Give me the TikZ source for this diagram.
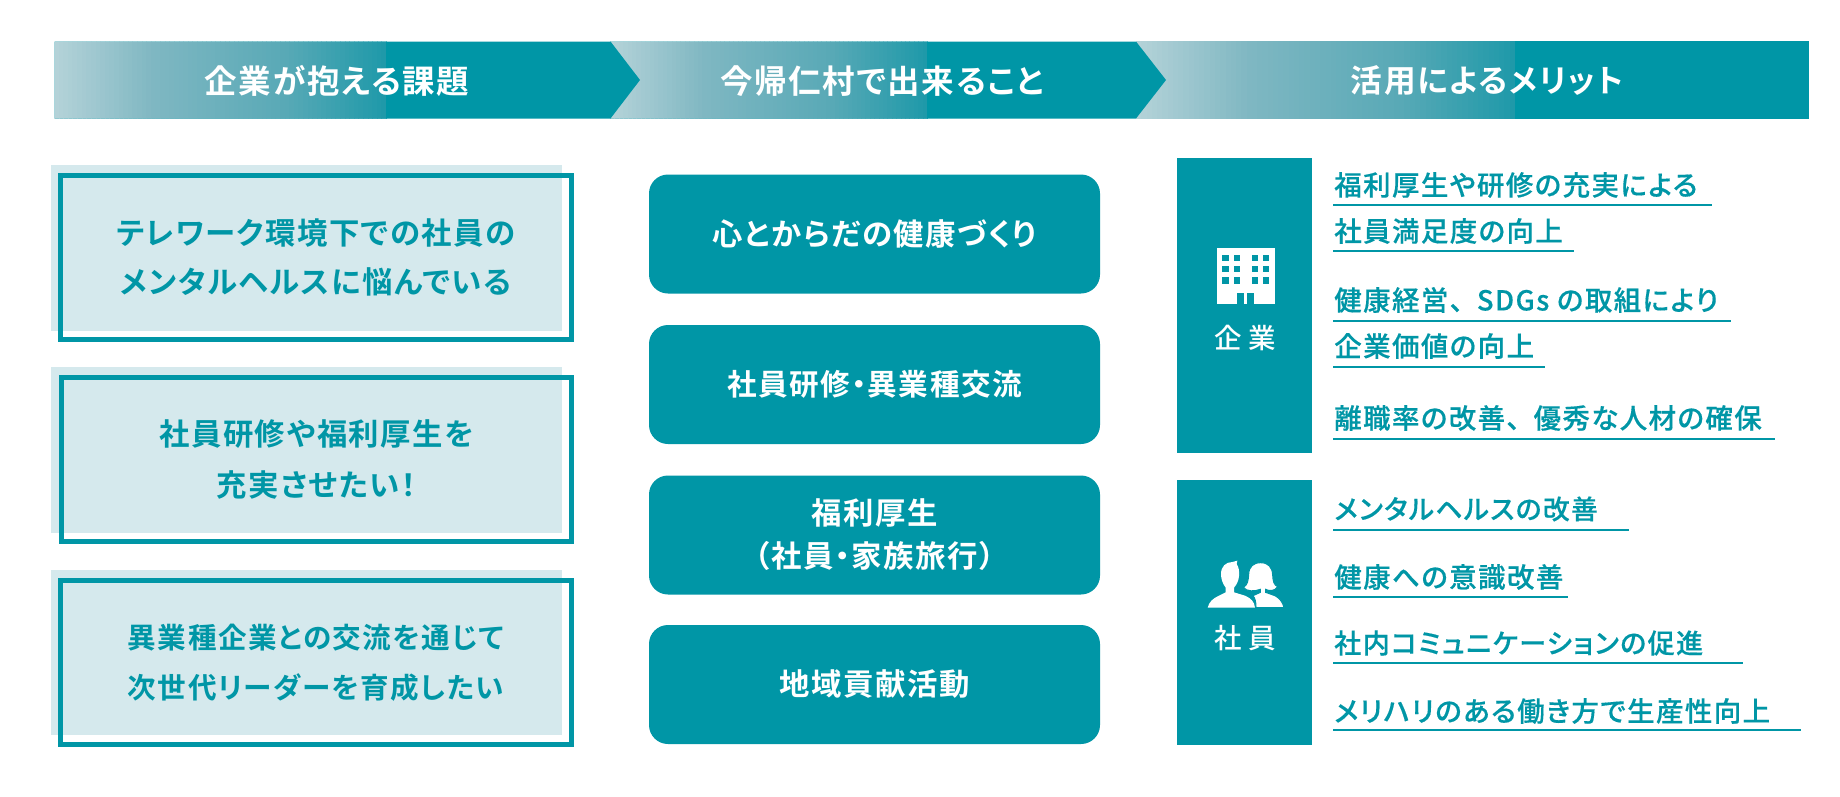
\documentclass[tikz,border=0pt]{standalone}
\usepackage{fontspec}
\newfontfamily\jp[LetterSpace=5,RawFeature={+palt},FakeBold=0.35]{Noto Sans CJK JP Medium}
\newfontfamily\jpb[LetterSpace=5,RawFeature={+palt}]{Noto Sans CJK JP Bold}
\newfontfamily\jpw[LetterSpace=22,RawFeature={+palt}]{Noto Sans CJK JP Medium}
\newcommand\pxfont[1]{\fontsize{\dimexpr#1pt*3/4\relax}{\dimexpr#1pt*3/4\relax}\selectfont}
\newcommand\tenkern{\kern10pt\relax}
\definecolor{teal1}{HTML}{0096A6}
\definecolor{paleb}{HTML}{D5E9ED}
\definecolor{chevA}{HTML}{B5D3D9}
\definecolor{chevB}{HTML}{7FB7C2}
\definecolor{chevD}{HTML}{58A9B6}
\definecolor{chevC}{HTML}{1E99A9}
% gradient of a chevron, as solid slices from x=#1 to x=#2
\newcommand\chevgrad[2]{%
  \foreach \ii in {0,...,71} {%
    \pgfmathsetmacro\tt{(\ii+0.5)/72}%
    \pgfmathsetmacro\xs{#1+\ii/72*(#2-#1)}%
    \pgfmathsetmacro\xe{#1+(\ii+1)/72*(#2-#1)}%
    \ifnum\ii<22\relax
      \pgfmathsetmacro\pp{\tt/0.3*100}\colorlet{slicecol}{chevB!\pp!chevA}%
    \else\ifnum\ii<50\relax
      \pgfmathsetmacro\pp{(\tt-0.3)/0.4*100}\colorlet{slicecol}{chevD!\pp!chevB}%
    \else
      \pgfmathsetmacro\pp{(\tt-0.7)/0.3*100}\colorlet{slicecol}{chevC!\pp!chevD}%
    \fi\fi
    \fill[slicecol] (\xs,41) rectangle (\xe+1,119);
  }%
  \fill[teal1] (#2,41) rectangle (#2+1,119);
}
\tikzset{
  headtext/.style={text=white,font=\jpb\pxfont{32.5}},
  issuebox/.style={draw=teal1,line width=3.4pt,minimum width={510.5*0.75pt},minimum height={164.5*0.75pt},inner sep=0pt,align=center,text=teal1,font=\jpb\pxfont{30.4}},
  palerect/.style={fill=paleb},
  actionbox/.style={fill=teal1,rounded corners={19*0.75pt},minimum width={451*0.75pt},minimum height={119*0.75pt},inner sep=0pt,align=center,text=white,font=\jpb\pxfont{30.4}},
  sidebar/.style={fill=teal1,minimum width={135*0.75pt},inner sep=0pt},
  sidelabel/.style={text=white,font=\jpw\pxfont{27.5}},
  benefit/.style={anchor=west,text=teal1,inner sep=0pt,font=\jp\pxfont{27.5}},
  uline/.style={draw=teal1,line width=1.6pt},
}
\begin{document}
\begin{tikzpicture}[x=0.75pt,y=-0.75pt]
\useasboundingbox (0,0) rectangle (1840,796);
\fill[white] (0,0) rectangle (1840,796);
% header chevrons (right to left, so that each tip overlaps the next)
\begin{scope}
\clip (1136,41) -- (1809,41) -- (1809,118.7) -- (1136,118.7) -- cycle;
\fill[teal1] (1136,41) rectangle (1809,118.7);
\chevgrad{1136}{1515}
\end{scope}
\begin{scope}
\clip (610,41.5) -- (1136,41.5) -- (1166,80) -- (1136,118.5) -- (610,118.5) -- cycle;
\fill[teal1] (610,41) rectangle (1170,119);
\chevgrad{610}{927}
\end{scope}
\begin{scope}
\clip (54.5,41.5) -- (610.5,41.5) -- (640,80) -- (610.5,118.5) -- (54.5,118.5) -- cycle;
\fill[teal1] (54,41) rectangle (645,119);
\chevgrad{54}{386}
\end{scope}
\node[headtext] (h1) at (337,81) {企業が抱える課題};
\node[headtext] (h2) at (882,81) {今帰仁村で出来ること};
\node[headtext,font=\jpb\pxfont{31.7}] (h3) at (1487,81) {活用によるメリット};
% issues
\fill[palerect] (51,165) rectangle (562,331);
\fill[palerect] (51,367) rectangle (562,532.7);
\fill[palerect] (51,570) rectangle (562,735);
\node[issuebox] (i1) at (316,257.5) {テレワーク環境下での社員の\\[14.5pt]メンタルヘルスに悩んでいる};
\node[issuebox] (i2) at (316.5,459.5) {社員研修や福利厚生を\\[14.8pt]充実させたい！};
\node[issuebox,font=\jpb\pxfont{28.6}] (i3) at (316,662.5) {異業種企業との交流を通じて\\[16pt]次世代リーダーを育成したい};
% actions
\node[actionbox] (a1) at (874.5,234) {心とからだの健康づくり};
\node[actionbox,font=\jpb\pxfont{29.6}] (a2) at (874.5,384.5) {社員研修・異業種交流};
\node[actionbox] (a3) at (874.5,535) {福利厚生\\[9.4pt]（社員・家族旅行）};
\node[actionbox] (a4) at (874.5,684.5) {地域貢献活動};
% side bars
\node[sidebar,minimum height={294.7*0.75pt}] (s1) at (1244.5,305.3) {};
\node[sidebar,minimum height={265*0.75pt}] (s2) at (1244.5,612.5) {};
\node[sidelabel] (s1t) at (1245.5,338) {企業};
\node[sidelabel] (s2t) at (1245.5,638) {社員};
% building icon
\fill[white] (1217,248.3) rectangle (1274.7,303.7);
\foreach \xx in {1222.3,1233.7,1251.7,1263}
  \foreach \yy in {254.7,266,277.3}
    \fill[teal1] (\xx,\yy) rectangle +(6.3,6.3);
\fill[teal1] (1237,293) rectangle (1244.3,303.7);
\fill[teal1] (1247,293) rectangle (1254.3,303.7);
% people icon
\begin{scope}[shift={(1195,550)},x=0.25pt,y=-0.25pt]
\fill[white] (38,173) .. controls (42,155) and (55,145) .. (70,138) -- (92,127) -- (92,113)
  .. controls (82,100) and (78,85) .. (78,72) .. controls (78,50) and (92,36) .. (112,36)
  -- (127,32) -- (125,42) .. controls (132,52) and (133,65) .. (132,78)
  .. controls (131,92) and (125,104) .. (117,113) -- (117,127) -- (150,137)
  .. controls (168,145) and (178,155) .. (180,173) -- cycle;
\fill[white,draw=teal1,line width=0.8pt] (183,173) .. controls (183,155) and (180,145) .. (174,137)
  -- (196,127) -- (196,118) .. controls (180,124) and (155,126) .. (145,112)
  .. controls (158,105) and (160,90) .. (161,72) .. controls (162,50) and (175,38) .. (197,38)
  .. controls (220,38) and (232,52) .. (233,75) .. controls (234,92) and (236,105) .. (248,110)
  .. controls (240,124) and (222,124) .. (212,118) -- (212,127) -- (240,137)
  .. controls (255,145) and (264,158) .. (267,173) -- cycle;
\end{scope}
% benefits
\node[benefit] (b1) at (1334,185) {福利厚生や研修の充実による};
\node[benefit] (b2) at (1334,231) {社員満足度の向上};
\node[benefit] (b3) at (1334,300) {健康経営、\tenkern SDGs の取組により};
\node[benefit] (b4) at (1334,346) {企業価値の向上};
\node[benefit] (b5) at (1334,418) {離職率の改善、\tenkern 優秀な人材の確保};
\node[benefit,font=\jp\pxfont{26.8}] (b6) at (1334,509) {メンタルヘルスの改善};
\node[benefit] (b7) at (1334,577) {健康への意識改善};
\node[benefit,font=\jp\pxfont{27.1}] (b8) at (1334,643) {社内コミュニケーションの促進};
\node[benefit] (b9) at (1334,711) {メリハリのある働き方で生産性向上};
\draw[uline] (1333,204.7) -- (1712,204.7);
\draw[uline] (1333,250.7) -- (1574,250.7);
\draw[uline] (1333,321) -- (1731,321);
\draw[uline] (1333,366.7) -- (1545,366.7);
\draw[uline] (1333,439) -- (1775,439);
\draw[uline] (1333,530) -- (1629,530);
\draw[uline] (1333,596.7) -- (1568,596.7);
\draw[uline] (1333,662.7) -- (1743,662.7);
\draw[uline] (1333,729.7) -- (1801,729.7);
\end{tikzpicture}
\end{document}
